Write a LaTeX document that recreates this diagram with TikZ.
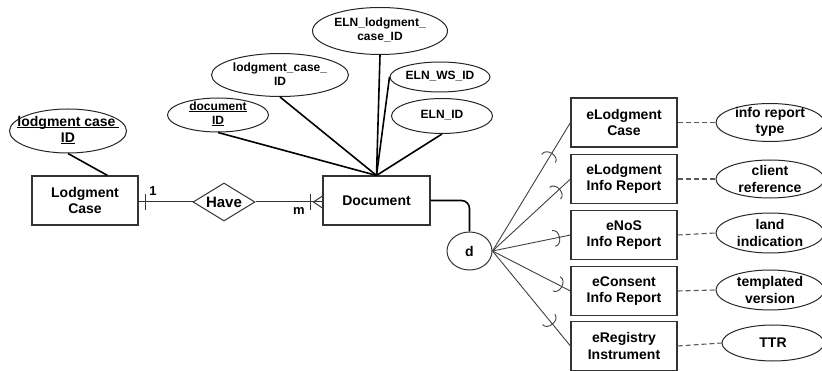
\documentclass[tikz,border=0pt]{standalone}
\usepackage{fontspec}
\setmainfont{Liberation Sans}
\usetikzlibrary{shapes.geometric,calc,decorations.markings}
\newcommand\bigf{\fontsize{14}{16.5}\selectfont\bfseries}
\newcommand\smallf{\fontsize{12}{14}\selectfont\bfseries}
\newsavebox\myulbox
\newcommand\myul[1]{\sbox\myulbox{#1}\rlap{\rule[-1.6pt]{\wd\myulbox}{0.8pt}}\usebox\myulbox}
\tikzset{
 ent/.style={draw=black!80, line width=1.1pt, minimum width=106pt, minimum height=49pt, inner sep=0pt, align=center, font=\bigf},
 attrshape/.style={draw=black!85, ellipse, line width=1pt, inner sep=0pt},
 lbl/.style={inner sep=0pt, align=center, font=\smallf},
 blbl/.style={inner sep=0pt, align=center, font=\bigf},
 conn/.style={line width=1.6pt},
 rel/.style={line width=1pt, draw=black!80},
 sub/.style={line width=0.9pt, draw=black!75},
 subsetat/.style={postaction={decorate}, decoration={markings, mark=at position #1 with {\draw[line width=0.9pt, draw=black!75] (-6,8) .. controls (2,8) and (2,-8) .. (-6,-8);}}},
 dsh/.style={dash pattern=on 5pt off 3pt, line width=1.1pt, draw=black!65},
}
\begin{document}
\begin{tikzpicture}[x=1pt,y=-1pt]
\useasboundingbox (0,0) rectangle (822,371);

% Lodgment Case and its key
\node[ent] (lc) at (85,200.5) {Lodgment\\Case};
\node[attrshape, minimum width=117pt, minimum height=44pt] (lcid) at (68,131) {};
\node[blbl] (lcidT) at (68,130) {\myul{lodgment case\kern3pt}\\\myul{ID}};
\draw[conn] (lcid.south) -- ($(lc.north)!0.42!(lc.north east)$);

% relationship
\node[draw=black!80, line width=1pt, diamond, aspect=1.63, minimum width=62pt, minimum height=38pt, inner sep=0pt, font=\fontsize{15}{17}\selectfont\bfseries] (have) at (224,202) {Have};
\node[ent, minimum width=107pt] (doc) at (376.5,200.5) {Document};
\draw[rel] (lc.east |- have) -- (have.west);
\draw[rel] (have.east) -- (doc.west |- have);
\coordinate (t1) at ($(lc.east |- have)+(7,0)$);
\draw[rel] ($(t1)+(0,-8)$) -- ($(t1)+(0,8)$);
\coordinate (cf) at ($(doc.west |- have)+(-9,0)$);
\draw[rel] ($(cf)+(-3,-8)$) -- ($(cf)+(-3,8)$);
\draw[rel] ($(doc.west |- have)+(0,-6)$) -- (cf) -- ($(doc.west |- have)+(0,6)$);
\node[font=\fontsize{13}{15}\selectfont\bfseries, inner sep=0pt] (one) at (153,191) {1};
\node[font=\fontsize{13}{15}\selectfont\bfseries, inner sep=0pt] (em) at (299,211) {m};

% Document attributes
\node[attrshape, minimum width=101pt, minimum height=34pt] (docid) at (218,115) {};
\node[lbl] (docidT) at (218,114) {\myul{document}\\\myul{ID}};
\node[attrshape, minimum width=137pt, minimum height=43pt] (lcid2) at (280,75) {};
\node[lbl] (lcid2T) at (280,74) {lodgment\_case\_\\ID};
\node[attrshape, minimum width=135pt, minimum height=47pt] (elnlc) at (380,31) {};
\node[lbl] (elnlcT) at (380,30) {ELN\_lodgment\_\\case\_ID};
\node[attrshape, minimum width=100pt, minimum height=30pt] (elnws) at (440,77) {};
\node[lbl] (elnwsT) at (440,76) {ELN\_WS\_ID};
\node[attrshape, minimum width=101pt, minimum height=35pt] (elnid) at (442,116) {};
\node[lbl] (elnidT) at (442,115) {ELN\_ID};
\draw[conn] (docid.south) -- (doc.north);
\draw[conn] (lcid2.south) -- (doc.north);
\draw[conn] (elnlc.south) -- (doc.north);
\draw[conn] (elnws.west) -- (doc.north);
\draw[conn] (elnid.south) -- (doc.north);

% disjoint circle
\node[draw=black!80, line width=1pt, ellipse, minimum width=45pt, minimum height=38pt, inner sep=0pt, font=\bigf] (d) at (469.5,251) {d};
\draw[conn, rounded corners=8pt] (doc.east) -| (d.north);

% subclasses
\node[ent] (b1) at (624,122.5) {eLodgment\\Case};
\node[ent] (b2) at (624,179) {eLodgment\\Info Report};
\node[ent] (b3) at (624,235) {eNoS\\Info Report};
\node[ent] (b4) at (624,291) {eConsent\\Info Report};
\node[ent] (b5) at (624,346) {eRegistry\\Instrument};

\node[attrshape, minimum width=108pt, minimum height=38pt] (e1) at (770,122.5) {};
\node[blbl] (e1T) at (770,122) {info report\\type};
\node[attrshape, minimum width=108pt, minimum height=38pt] (e2) at (770,179) {};
\node[blbl] (e2T) at (770,179) {client\\reference};
\node[attrshape, minimum width=108pt, minimum height=40pt] (e3) at (770,233) {};
\node[blbl] (e3T) at (770,233) {land\\indication};
\node[attrshape, minimum width=108pt, minimum height=40pt] (e4) at (770,290) {};
\node[blbl] (e4T) at (770,290) {templated\\version};
\node[attrshape, minimum width=102pt, minimum height=36pt] (e5) at (773,343) {};
\node[blbl] (e5T) at (773,343) {TTR};

\foreach \i in {1,...,5}{
  \draw[dsh] (b\i.east) -- (e\i.west);
}

\foreach \b/\f in {b1/0.76, b2/0.86, b3/0.86, b4/0.89, b5/0.77}{
  \draw[sub, subsetat=\f] (d.east) -- (\b.west);
}
\end{tikzpicture}
\end{document}
